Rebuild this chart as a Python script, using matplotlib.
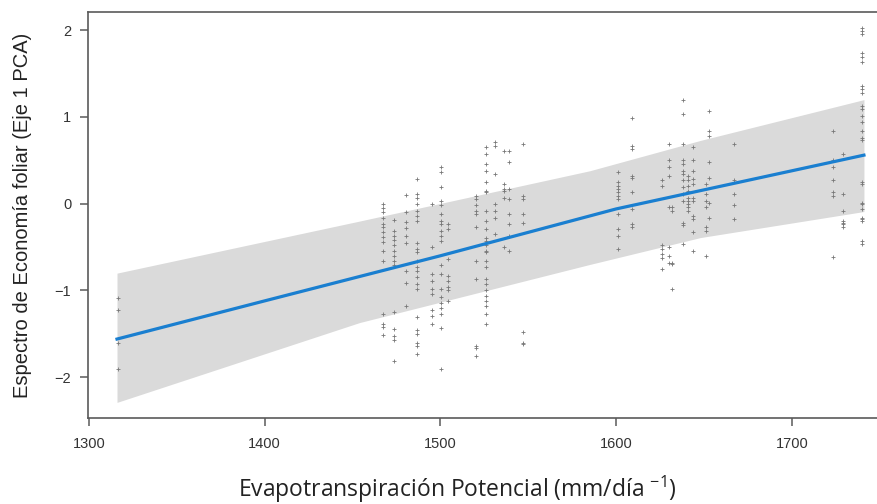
import matplotlib.pyplot as plt
import numpy as np

plt.rcParams['font.family'] = ['Open Sans', 'DejaVu Sans']
plt.rcParams['mathtext.fontset'] = 'custom'
plt.rcParams['mathtext.rm'] = 'Open Sans'
plt.rcParams['mathtext.default'] = 'regular'

# sites: potential evapotranspiration and leaf economics scores per site
pet_sites = [1316.5, 1467.4, 1473.5, 1480.7, 1486.8, 1495.3, 1500.3, 1504.2,
             1520, 1526, 1531.3, 1536, 1538.8, 1546.8, 1601, 1609, 1626,
             1630, 1632, 1638, 1641, 1644, 1651, 1653, 1667, 1723.5, 1729, 1740]
pca_by_site = [
    [-1.09, -1.23, -1.61, -1.90],
    [0.0, -0.05, -0.10, -0.16, -0.23, -0.27, -0.33, -0.38, -0.44, -0.54, -0.66, -1.27, -1.39, -1.42, -1.51],
    [-0.19, -0.32, -0.37, -0.42, -0.48, -0.55, -0.60, -0.66, -0.71, -1.25, -1.44, -1.52, -1.57, -1.81],
    [0.10, -0.10, -0.21, -0.28, -0.37, -0.45, -0.77, -0.91, -1.18],
    [0.28, 0.11, 0.07, 0.0, -0.08, -0.14, -0.20, -0.45, -0.52, -0.56, -0.66, -0.73, -0.77, -0.85,
     -0.93, -0.98, -1.31, -1.46, -1.50, -1.60, -1.64, -1.73],
    [0.0, -0.50, -0.81, -0.89, -0.98, -1.04, -1.23, -1.29, -1.39],
    [0.42, 0.36, 0.19, 0.03, -0.02, -0.12, -0.20, -0.23, -0.31, -0.37, -0.43, -0.71, -0.81, -0.98,
     -1.08, -1.14, -1.20, -1.27, -1.43, -1.91],
    [-0.23, -0.29, -0.64, -0.83, -0.89, -0.96, -1.00, -1.12],
    [0.09, 0.05, -0.02, -0.08, -0.12, -0.27, -0.66, -0.87, -1.64, -1.66, -1.75],
    [0.65, 0.57, 0.46, 0.38, 0.25, 0.15, 0.13, -0.08, -0.20, -0.29, -0.39, -0.43, -0.48, -0.54,
     -0.56, -0.66, -0.73, -0.87, -0.93, -1.00, -1.06, -1.12, -1.18, -1.27, -1.39],
    [0.71, 0.67, 0.34, 0.0, -0.08, -0.16, -0.35],
    [0.61, 0.23, 0.17, 0.15, 0.07, -0.50],
    [0.61, 0.48, 0.17, 0.05, -0.12, -0.23, -0.37, -0.54],
    [0.69, 0.09, 0.05, -0.12, -0.22, -1.48, -1.60, -1.62],
    [0.36, 0.25, 0.21, 0.17, 0.13, 0.09, 0.05, -0.12, -0.29, -0.37, -0.52],
    [0.99, 0.67, 0.63, 0.32, 0.30, 0.13, -0.06, -0.23, -0.27],
    [0.27, 0.21, -0.48, -0.52, -0.58, -0.62, -0.75],
    [0.69, 0.50, 0.42, 0.32, -0.04, -0.50, -0.60, -0.68],
    [-0.04, -0.08, -0.68, -0.70, -0.98],
    [1.19, 1.03, 0.69, 0.50, 0.46, 0.38, 0.34, 0.27, 0.19, 0.11, 0.03, -0.22, -0.25, -0.46],
    [0.32, 0.27, 0.21, 0.15, 0.07, 0.03, 0.0, -0.04, -0.08],
    [0.65, 0.50, 0.38, 0.28, 0.23, 0.07, 0.03, -0.14, -0.18, -0.33, -0.54],
    [0.23, 0.11, 0.03, -0.04, -0.27, -0.31, -0.60],
    [1.07, 0.84, 0.78, 0.48, 0.30, 0.01, -0.16],
    [0.69, 0.27, 0.11, -0.02, -0.18],
    [0.84, 0.50, 0.42, 0.27, 0.13, 0.09, -0.61],
    [0.57, 0.11, -0.08, -0.20, -0.22, -0.23, -0.27],
    [2.03, 1.99, 1.96, 1.74, 1.69, 1.63, 1.36, 1.32, 1.28, 1.13, 1.09, 1.01, 0.94, 0.84, 0.76,
     0.73, 0.25, 0.23, 0.01, 0.0, -0.06, -0.16, -0.18, -0.20, -0.43, -0.46],
]

# fitted line and prediction band
fit_x = [1316, 1400, 1500, 1600, 1741]
fit_y = [-1.56, -1.12, -0.60, -0.06, 0.56]
band_x = [1316, 1454, 1585, 1648, 1741]
band_hi = [-0.80, -0.20, 0.38, 0.73, 1.20]
band_lo = [-2.29, -1.37, -0.70, -0.39, -0.09]

x_ticks = [1300, 1400, 1500, 1600, 1700]
y_ticks = [-2, -1, 0, 1, 2]

pts_x = np.concatenate([[s] * len(v) for s, v in zip(pet_sites, pca_by_site)])
pts_y = np.concatenate(pca_by_site)

fig = plt.figure(figsize=(8.78, 5.04), dpi=100)
ax = fig.add_axes([88 / 878, 86 / 504, 790 / 878, 406 / 504])

ax.fill_between(band_x, band_lo, band_hi, color='#dadada', linewidth=0, zorder=1)
ax.plot(pts_x, pts_y, linestyle='none', marker='+', markersize=2.6, markeredgewidth=0.6,
        color='#777777', zorder=2)
ax.plot(fit_x, fit_y, color='#1a7fd0', linewidth=2.3, zorder=3)

ax.set_xlim(1299.5, 1749)
ax.set_ylim(-2.47, 2.21)
ax.set_xticks(x_ticks)
ax.set_yticks(y_ticks)

spine_col = '#5a5a5a'
for side in ['left', 'top', 'bottom']:
    ax.spines[side].set_color(spine_col)
    ax.spines[side].set_linewidth(1.2)
ax.spines['right'].set_visible(False)

ax.tick_params(direction='out', length=6, width=1.1, color=spine_col, labelsize=10.5,
               labelcolor='#333333')
for lab in ax.get_xticklabels() + ax.get_yticklabels():
    lab.set_family(['Liberation Sans Narrow', 'Liberation Sans'])
ax.tick_params(axis='x', pad=8)
ax.tick_params(axis='y', pad=6)

ax.set_xlabel('Evapotranspiración Potencial (mm/día $^{-1}$)', fontsize=16.5, color='#222222',
              va='center')
ax.xaxis.set_label_coords(0.467, -0.177)
ax.set_ylabel('Espectro de Economía foliar (Eje 1 PCA)', fontsize=14.5, color='#222222',
              va='center', family=['Liberation Sans', 'DejaVu Sans'])
ax.yaxis.set_label_coords(-0.083, 0.5)

fig.savefig('out.png', dpi=100)
